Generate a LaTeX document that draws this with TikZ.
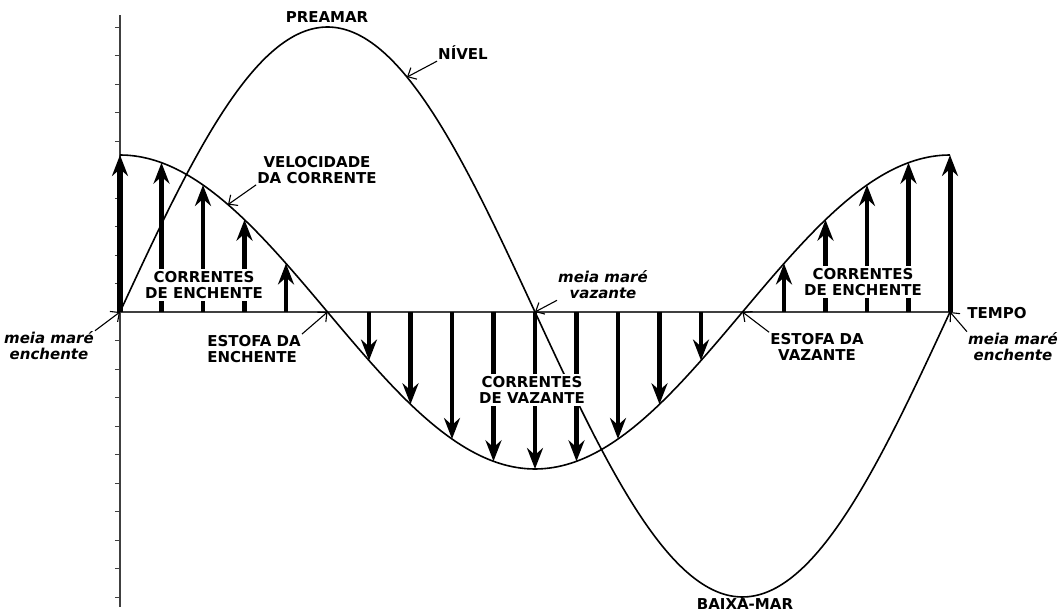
\documentclass[tikz,border=0pt]{standalone}
\usepackage{fontspec}
\setmainfont{DejaVu Sans}
\usetikzlibrary{arrows.meta}

\begin{document}
\begin{tikzpicture}[x=1pt, y=1pt, >=Stealth,
    curve/.style={line width=1.6pt},
    flow/.style={-{Stealth[length=21pt,width=16pt,inset=7pt]}, line width=4.2pt},
    pointer/.style={-{Straight Barb[length=7pt,width=13pt]}, line width=1.1pt},
    lbl/.style={font=\fontsize{15}{16}\selectfont\bfseries, align=center, inner sep=1pt},
    tag/.style={font=\fontsize{15}{16}\selectfont\bfseries\itshape, align=center, inner sep=1pt},
    boxed/.style={lbl, fill=white, inner sep=2pt}]
    \useasboundingbox (-120,-300) rectangle (938,312);
    % axes
    \draw[line width=1.1pt, black!75] (0,-295) -- (0,297);
    \foreach \k in {-10,...,-1,1,2,...,10}
        \draw[line width=0.9pt, black!75] (-5,28.5*\k) -- (0,28.5*\k);
    \draw[line width=1.1pt, black!75] (0,0) -- (830,0);
    % nivel and velocidade
    \draw[curve] plot[domain=0:830, samples=120, smooth] (\x, {285*sin(\x/830*360)});
    \draw[curve] plot[domain=0:830, samples=120, smooth] (\x, {157*cos(\x/830*360)});
    % correntes
    \foreach \k in {1,...,4,6,7,...,14,16,17,...,19}
        \draw[flow] (41.5*\k,0) -- (41.5*\k, {157*cos(\k*18)});
    \draw[flow, line width=5pt] (0,0) -- (0,157);
    \draw[flow, line width=5pt] (830,0) -- (830,157);
    % points on the curves
    \coordinate (mme0) at (0,0);
    \coordinate (estofaE) at (207.5,0);
    \coordinate (mmv) at (415,0);
    \coordinate (estofaV) at (622.5,0);
    \coordinate (mme1) at (830,0);
    \coordinate (nivelpt) at (287,{285*sin(287/830*360)});
    \coordinate (velpt) at (108,{157*cos(108/830*360)});
    % labels
    \node[lbl] (preamar) at (207,295) {PREAMAR};
    \node[lbl] (nivel) at (343,259) {NÍVEL};
    \node[lbl] (veloc) at (197,142) {VELOCIDADE\\DA CORRENTE};
    \node[boxed] (enchL) at (84,27) {CORRENTES\\DE ENCHENTE};
    \node[lbl, align=left] (estofaEnch) at (134,-37) {ESTOFA DA\\ENCHENTE};
    \node[tag] (mmeL) at (-71,-34) {meia maré\\enchente};
    \node[tag] (mmvaz) at (483,27) {meia maré\\vazante};
    \node[boxed] (vaz) at (412,-78) {CORRENTES\\DE VAZANTE};
    \node[boxed] (enchR) at (743,30) {CORRENTES\\DE ENCHENTE};
    \node[lbl] (tempo) at (877,-1) {TEMPO};
    \node[lbl] (estofaVaz) at (697,-35) {ESTOFA DA\\VAZANTE};
    \node[tag] (mmeR) at (893,-35) {meia maré\\enchente};
    \node[lbl] (baixamar) at (625,-292) {BAIXA-MAR};
    % pointers
    \draw[pointer] (nivel.south west) -- (nivelpt);
    \draw[pointer] (veloc.south west) -- (velpt);
    \draw[pointer] (estofaEnch.north east) -- (estofaE);
    \draw[pointer] (mmeL.north east) -- (mme0);
    \draw[pointer] (mmvaz.south west) -- (mmv);
    \draw[pointer] (estofaVaz.north west) -- (estofaV);
    \draw[pointer] (mmeR.north west) -- (mme1);
\end{tikzpicture}
\end{document}
